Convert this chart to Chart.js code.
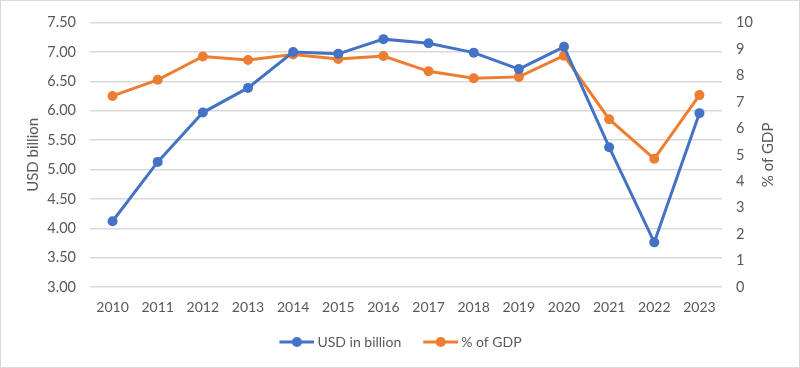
<!DOCTYPE html>
<html><head><meta charset="utf-8">
<script src="https://cdn.jsdelivr.net/npm/chart.js@4"></script>
<style>html,body{margin:0;padding:0;background:#fff}#wrap{width:800px;height:368px;position:relative}</style>
</head><body><div id="wrap"><canvas id="c" width="800" height="368"></canvas></div>
<script>
const years = ["2010","2011","2012","2013","2014","2015","2016","2017","2018","2019","2020","2021","2022","2023"];
const usdBillion = [4.12,5.13,5.97,6.39,7.00,6.97,7.22,7.15,6.99,6.71,7.09,5.38,3.76,5.96];
const pctGDP = [7.23,7.84,8.72,8.59,8.80,8.63,8.74,8.16,7.90,7.95,8.75,6.35,4.85,7.26];
const seriesNames = ["USD in billion","% of GDP"];
const leftTitle = "USD billion";
const rightTitle = "% of GDP";

const BLUE = "#4472C4", ORANGE = "#ED7D31", TXT = "#595959", GRID = "#d9d9d9";
const FONT = "Lato, 'Open Sans', sans-serif";

function legendIcon(color){
  const c = document.createElement('canvas'); c.width = 40; c.height = 12;
  const x = c.getContext('2d');
  x.strokeStyle = color; x.lineWidth = 3; x.beginPath(); x.moveTo(5,6); x.lineTo(40,6); x.stroke();
  x.fillStyle = color; x.beginPath(); x.arc(22.5,6,5,0,Math.PI*2); x.fill();
  return c;
}

const extras = {id:'extras', afterDraw(ch){
  const g=ch.ctx; g.save();
  g.strokeStyle='#d9d9d9'; g.lineWidth=1; g.strokeRect(0.5,0.5,799,367);
  const ca = ch.chartArea;
  g.translate(768, (ca.top+ca.bottom)/2); g.rotate(-Math.PI/2);
  g.fillStyle = TXT; g.font = "15px " + FONT; g.textAlign='center'; g.textBaseline='middle';
  g.fillText(rightTitle, 0, 0);
  g.restore();
}};

new Chart(document.getElementById('c'), {
  type: 'line',
  data: {
    labels: years,
    datasets: [
      {label: seriesNames[0], data: usdBillion, yAxisID: 'y', borderColor: BLUE, backgroundColor: BLUE,
       borderWidth: 3, pointRadius: 5, pointBackgroundColor: BLUE, pointBorderWidth: 0, tension: 0, pointStyle: 'circle'},
      {label: seriesNames[1], data: pctGDP, yAxisID: 'y1', borderColor: ORANGE, backgroundColor: ORANGE,
       borderWidth: 3, pointRadius: 5, pointBackgroundColor: ORANGE, pointBorderWidth: 0, tension: 0, pointStyle: 'circle'}
    ]
  },
  options: {
    responsive: false, animation: false,
    layout: {padding: {top: 18, right: 0, left: 0, bottom: 9}},
    plugins: {
      tooltip: {enabled: false},
      legend: {
        position: 'bottom',
        labels: {
          color: TXT, font: {family: FONT, size: 14},
          usePointStyle: true, pointStyleWidth: 32, boxHeight: 12,
          padding: 21,
          generateLabels(chart){
            return chart.data.datasets.map((d,i)=>({text: d.label, fillStyle: d.borderColor, strokeStyle: d.borderColor,
              lineWidth: 0, pointStyle: legendIcon(d.borderColor), datasetIndex: i, hidden: false, fontColor: TXT}));
          }
        }
      }
    },
    scales: {
      x: {
        offset: true,
        grid: {display: false, drawTicks: false},
        border: {display: false},
        ticks: {color: TXT, font: {family: FONT, size: 14}, padding: 12, maxRotation: 0},
        afterFit(s){ s.height = 27; }
      },
      y: {
        position: 'left', min: 3, max: 7.5,
        grid: {color: GRID, lineWidth: 1.5, drawTicks: false},
        border: {display: false},
        ticks: {stepSize: 0.5, color: TXT, font: {family: FONT, size: 14.5}, padding: 14, callback: v => v.toFixed(2)},
        title: {display: true, text: leftTitle, color: TXT, font: {family: FONT, size: 15}, padding: {top: 24, bottom: 0}},
        afterFit(s){ s.width = 90; }
      },
      y1: {
        position: 'right', min: 0, max: 10,
        grid: {display: false, drawTicks: false},
        border: {display: false},
        ticks: {stepSize: 1, color: TXT, font: {family: FONT, size: 14.5}, padding: 14},
        afterFit(s){ s.width = 78; }
      }
    }
  },
  plugins: [extras]
});
</script></body></html>
